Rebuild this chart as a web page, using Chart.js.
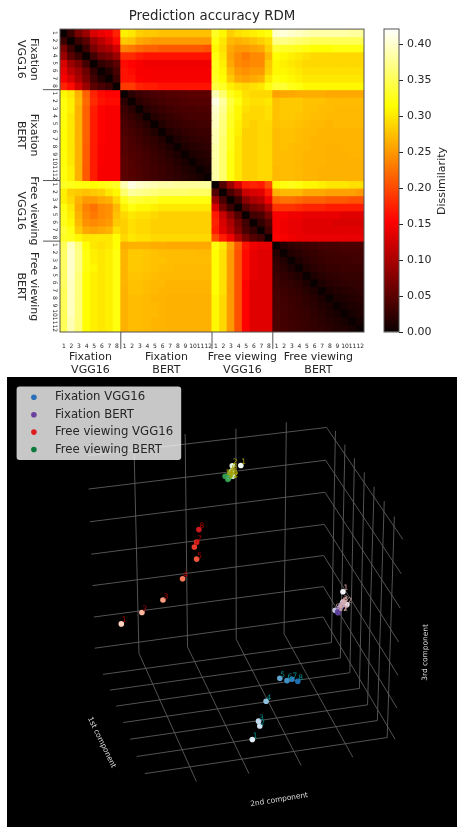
<!DOCTYPE html>
<html><head><meta charset="utf-8">
<script src="https://cdn.jsdelivr.net/npm/chart.js@4"></script>
<style>
html,body{margin:0;padding:0;background:#fff;width:457px;height:827px;overflow:hidden}
canvas{position:absolute;display:block;filter:blur(0.35px)}
#wrapA{position:absolute;left:0;top:0;width:424px;height:377px}
#wrapB{position:absolute;left:375px;top:0;width:82px;height:377px}
#wrapC{position:absolute;left:7px;top:377px;width:450px;height:450px;background:#000}
</style></head><body>
<div id="wrapA"><canvas id="heat" width="424" height="377"></canvas></div>
<div id="wrapB"><canvas id="cbar" width="82" height="377"></canvas></div>
<div id="wrapC"><canvas id="scene" width="450" height="450"></canvas></div>
<script>
// ---------- RDM block values (dissimilarity) ----------
const groups = ["Fixation VGG16","Fixation BERT","Free viewing VGG16","Free viewing BERT"];
const groupLines = [["Fixation","VGG16"],["Fixation","BERT"],["Free viewing","VGG16"],["Free viewing","BERT"]];
const groupSizes = [8,12,8,12];
const tickLabels = ["1","2","3","4","5","6","7","8","1","2","3","4","5","6","7","8","9","10","11","12","1","2","3","4","5","6","7","8","1","2","3","4","5","6","7","8","9","10","11","12"];

const fvFv = [
[0,.03,.07,.09,.13,.14,.15,.175],
[.03,0,.03,.05,.09,.11,.13,.16],
[.07,.03,0,.03,.07,.09,.10,.125],
[.09,.05,.03,0,.035,.06,.07,.09],
[.13,.09,.07,.035,0,.025,.035,.05],
[.14,.11,.09,.06,.025,0,.015,.04],
[.15,.13,.10,.07,.035,.015,0,.03],
[.175,.16,.125,.09,.05,.04,.03,0]];
const fvFb = [
[.305,.30,.285,.28,.28,.275,.275,.275,.275,.275,.275,.275],
[.28,.275,.26,.255,.25,.25,.25,.25,.25,.25,.25,.25],
[.235,.23,.22,.215,.215,.21,.21,.21,.21,.21,.21,.205],
[.18,.18,.17,.165,.165,.165,.165,.165,.165,.165,.165,.165],
[.16,.155,.15,.145,.145,.145,.145,.145,.145,.145,.145,.145],
[.165,.16,.15,.15,.148,.148,.148,.148,.148,.148,.148,.148],
[.165,.165,.152,.15,.15,.15,.15,.15,.15,.15,.15,.15],
[.19,.19,.175,.17,.17,.165,.165,.165,.165,.165,.165,.165]];
const fvVv = [
[.33,.31,.285,.295,.30,.305,.31,.32],
[.32,.30,.27,.265,.27,.275,.285,.295],
[.31,.295,.26,.25,.25,.255,.26,.285],
[.32,.30,.255,.24,.23,.24,.24,.27],
[.325,.305,.26,.24,.235,.24,.24,.28],
[.325,.31,.27,.25,.245,.25,.25,.285],
[.33,.315,.28,.26,.255,.26,.265,.30],
[.34,.33,.305,.295,.29,.295,.30,.32]];
const fvVb = [
[.40,.405,.40,.395,.39,.385,.385,.385,.385,.385,.38,.38],
[.37,.37,.365,.36,.355,.35,.35,.35,.35,.35,.35,.35],
[.335,.33,.33,.325,.32,.315,.315,.315,.32,.32,.32,.32],
[.315,.31,.305,.30,.295,.29,.29,.29,.29,.29,.29,.29],
[.31,.305,.30,.295,.29,.29,.29,.29,.29,.29,.29,.29],
[.31,.31,.305,.30,.295,.295,.295,.295,.295,.295,.295,.295],
[.32,.315,.31,.305,.30,.30,.30,.30,.30,.30,.30,.30],
[.335,.335,.325,.32,.31,.31,.31,.31,.31,.31,.31,.31]];

const fbFv = [
[.31,.30,.265,.215,.175,.16,.155,.155],
[.32,.305,.27,.22,.18,.165,.16,.16],
[.32,.305,.265,.215,.172,.155,.15,.15],
[.318,.30,.265,.215,.17,.155,.15,.15],
[.318,.30,.265,.215,.17,.155,.15,.15],
[.315,.30,.265,.215,.17,.155,.15,.15],
[.315,.30,.265,.215,.17,.155,.15,.15],
[.315,.30,.265,.212,.17,.152,.15,.15],
[.318,.30,.265,.212,.17,.152,.15,.15],
[.318,.30,.265,.212,.17,.152,.15,.15],
[.32,.305,.265,.21,.17,.15,.15,.15],
[.32,.305,.265,.21,.17,.15,.15,.15]];
const fbFb = [
[0,.02,.03,.035,.04,.042,.045,.047,.048,.05,.05,.05],
[.02,0,.02,.028,.033,.037,.04,.042,.044,.045,.046,.046],
[.03,.02,0,.018,.025,.03,.034,.037,.04,.04,.042,.042],
[.035,.028,.018,0,.016,.023,.028,.032,.035,.037,.038,.038],
[.04,.033,.025,.016,0,.014,.022,.026,.03,.032,.034,.034],
[.042,.037,.03,.023,.014,0,.015,.02,.025,.028,.03,.03],
[.045,.04,.034,.028,.022,.015,0,.013,.018,.022,.025,.026],
[.047,.042,.037,.032,.026,.02,.013,0,.012,.016,.02,.022],
[.048,.044,.04,.035,.03,.025,.018,.012,0,.011,.015,.018],
[.05,.045,.04,.037,.032,.028,.022,.016,.011,0,.01,.014],
[.05,.046,.042,.038,.034,.03,.025,.02,.015,.01,0,.009],
[.05,.046,.042,.038,.034,.03,.026,.022,.018,.014,.009,0]];
const fbVv = [
[.39,.36,.325,.31,.295,.29,.29,.29],
[.41,.38,.34,.32,.30,.295,.295,.30],
[.40,.375,.335,.31,.295,.29,.29,.295],
[.395,.37,.33,.31,.29,.29,.29,.295],
[.395,.365,.33,.305,.29,.285,.29,.29],
[.39,.365,.325,.305,.285,.285,.29,.29],
[.39,.36,.325,.30,.285,.285,.29,.29],
[.385,.36,.325,.30,.285,.285,.29,.29],
[.385,.36,.32,.30,.285,.285,.29,.29],
[.385,.36,.32,.30,.285,.285,.29,.29],
[.385,.36,.32,.30,.285,.285,.29,.29],
[.385,.36,.32,.30,.285,.285,.29,.29]];
const fbVb = [
[.255,.258,.26,.262,.262,.262,.262,.26,.26,.26,.26,.26],
[.275,.28,.28,.28,.275,.275,.275,.272,.272,.272,.272,.272],
[.275,.28,.28,.28,.275,.275,.272,.272,.27,.27,.27,.27],
[.275,.28,.28,.278,.275,.272,.272,.27,.27,.27,.27,.27],
[.275,.278,.278,.275,.272,.27,.27,.268,.27,.27,.27,.27],
[.272,.275,.275,.272,.27,.27,.268,.268,.268,.268,.268,.268],
[.272,.275,.275,.272,.27,.268,.268,.268,.268,.268,.268,.268],
[.272,.275,.272,.27,.27,.268,.268,.265,.265,.268,.268,.268],
[.272,.272,.272,.27,.268,.268,.268,.265,.265,.265,.268,.268],
[.272,.272,.272,.27,.268,.268,.268,.265,.265,.265,.265,.265],
[.27,.272,.272,.27,.268,.268,.265,.265,.265,.265,.265,.265],
[.27,.272,.272,.27,.268,.268,.265,.265,.265,.265,.265,.265]];

const vvFv = [
[.33,.325,.32,.32,.315,.32,.325,.33],
[.305,.285,.28,.275,.28,.285,.30,.31],
[.305,.29,.265,.25,.25,.26,.265,.29],
[.32,.30,.26,.235,.225,.24,.245,.27],
[.325,.305,.265,.24,.23,.24,.245,.275],
[.325,.31,.27,.245,.24,.245,.25,.28],
[.335,.32,.28,.26,.255,.26,.265,.295],
[.33,.325,.31,.30,.30,.30,.30,.315]];
const vvFb = [
[.39,.41,.40,.395,.39,.385,.385,.38,.38,.38,.38,.38],
[.36,.38,.375,.37,.365,.36,.36,.36,.36,.355,.355,.355],
[.325,.34,.335,.33,.33,.32,.32,.32,.32,.32,.32,.32],
[.305,.32,.31,.31,.305,.30,.30,.30,.30,.30,.30,.30],
[.29,.30,.295,.295,.29,.285,.285,.285,.285,.285,.285,.285],
[.285,.295,.29,.29,.285,.285,.285,.285,.285,.285,.285,.285],
[.285,.295,.29,.29,.285,.285,.285,.285,.285,.285,.285,.285],
[.29,.30,.295,.295,.29,.29,.29,.29,.29,.29,.29,.29]];
const vvVv = [
[0,.045,.09,.13,.17,.175,.17,.20],
[.045,0,.04,.065,.12,.13,.135,.17],
[.09,.04,0,.03,.08,.10,.11,.145],
[.13,.065,.03,0,.045,.065,.075,.105],
[.17,.12,.08,.045,0,.035,.04,.07],
[.175,.13,.10,.065,.035,0,.025,.045],
[.17,.135,.11,.075,.04,.025,0,.035],
[.20,.17,.145,.105,.07,.045,.035,0]];
const vvVb = [
[.31,.32,.325,.32,.31,.31,.305,.30,.30,.30,.295,.295],
[.265,.27,.27,.27,.26,.26,.26,.255,.255,.255,.255,.25],
[.22,.225,.225,.22,.215,.215,.215,.21,.21,.21,.205,.205],
[.185,.185,.185,.18,.175,.175,.175,.17,.17,.17,.17,.17],
[.15,.15,.145,.145,.14,.14,.14,.14,.14,.135,.135,.135],
[.15,.145,.14,.14,.135,.135,.135,.135,.13,.13,.13,.13],
[.15,.145,.14,.14,.135,.135,.135,.135,.135,.135,.135,.135],
[.155,.15,.145,.14,.14,.14,.14,.14,.14,.14,.14,.14]];

const vbFv = [
[.35,.395,.365,.315,.30,.295,.30,.315],
[.355,.40,.37,.32,.305,.30,.305,.32],
[.355,.40,.37,.32,.305,.30,.305,.32],
[.355,.40,.37,.32,.31,.30,.305,.32],
[.355,.40,.365,.315,.305,.30,.305,.32],
[.355,.395,.365,.315,.305,.30,.305,.32],
[.35,.395,.365,.315,.305,.30,.305,.32],
[.35,.395,.365,.315,.305,.30,.305,.32],
[.35,.395,.365,.315,.305,.30,.305,.32],
[.35,.395,.365,.315,.305,.30,.305,.32],
[.35,.39,.365,.315,.305,.30,.305,.32],
[.35,.39,.365,.315,.305,.30,.305,.32]];
const vbFb = [
[.262,.265,.265,.265,.262,.262,.26,.26,.26,.26,.26,.26],
[.268,.28,.28,.278,.275,.272,.272,.272,.272,.272,.27,.27],
[.268,.28,.28,.278,.275,.275,.272,.272,.272,.272,.272,.272],
[.268,.28,.28,.278,.275,.272,.272,.27,.27,.27,.27,.27],
[.268,.278,.278,.275,.272,.27,.27,.27,.27,.27,.27,.27],
[.268,.275,.275,.272,.27,.27,.268,.268,.268,.268,.268,.268],
[.265,.275,.275,.272,.27,.268,.268,.268,.268,.268,.268,.268],
[.265,.272,.272,.27,.268,.268,.265,.265,.265,.265,.265,.265],
[.265,.272,.272,.27,.27,.268,.265,.265,.265,.265,.265,.265],
[.265,.272,.272,.27,.27,.268,.265,.265,.265,.265,.265,.265],
[.265,.272,.272,.27,.268,.268,.265,.265,.265,.265,.265,.265],
[.265,.272,.272,.27,.268,.268,.265,.265,.265,.265,.265,.265]];
const vbVv = [
[.32,.30,.255,.21,.165,.145,.14,.14],
[.315,.295,.25,.205,.16,.14,.135,.135],
[.315,.295,.25,.205,.16,.14,.135,.135],
[.315,.295,.25,.205,.16,.14,.135,.135],
[.315,.295,.25,.205,.16,.14,.135,.135],
[.315,.295,.25,.205,.155,.135,.135,.135],
[.315,.295,.25,.205,.155,.135,.135,.135],
[.31,.29,.25,.205,.155,.135,.135,.135],
[.31,.29,.25,.205,.155,.135,.135,.135],
[.31,.29,.25,.205,.155,.135,.135,.135],
[.31,.29,.25,.205,.155,.135,.135,.135],
[.31,.29,.25,.205,.155,.135,.135,.135]];
const vbVb = [
[0,.016,.022,.026,.03,.033,.036,.037,.038,.039,.04,.04],
[.016,0,.015,.02,.025,.028,.031,.033,.034,.035,.036,.036],
[.022,.015,0,.013,.02,.024,.027,.03,.031,.032,.033,.033],
[.026,.02,.013,0,.014,.02,.024,.027,.028,.03,.03,.03],
[.03,.025,.02,.014,0,.012,.018,.022,.024,.026,.027,.028],
[.033,.028,.024,.02,.012,0,.012,.017,.02,.022,.024,.025],
[.036,.031,.027,.024,.018,.012,0,.011,.015,.018,.02,.022],
[.037,.033,.03,.027,.022,.017,.011,0,.01,.013,.016,.019],
[.038,.034,.031,.028,.024,.02,.015,.01,0,.009,.012,.015],
[.039,.035,.032,.03,.026,.022,.018,.013,.009,0,.008,.012],
[.04,.036,.033,.03,.027,.024,.02,.016,.012,.008,0,.008],
[.04,.036,.033,.03,.028,.025,.022,.019,.015,.012,.008,0]];

const blockGrid = [[fvFv,fvFb,fvVv,fvVb],[fbFv,fbFb,fbVv,fbVb],[vvFv,vvFb,vvVv,vvVb],[vbFv,vbFb,vbVv,vbVb]];
const colorbarRange = [0,0.4213];
const colorbarStep = 0.05;

// ---------- Projected 3-D scene values (x, y in the view's projected coordinates) ----------
const fixationVgg = [[252.7,742],[260.3,728.3],[259,723.3],[266.7,703],[280.7,679.7],[288,682],[293,680.7],[299,682.7]];
const fixationVggColors = ["#e3eef8","#cfe1f2","#bfd8ec","#8fc2de","#60a6d1","#4090c5","#2f7ebc","#1f6db1"];
const fixationBert = [[345,591.5],[349,604.5],[345,602],[344.5,603.5],[344,604.5],[343,606],[342.5,607],[341.5,608.5],[337,610.5],[340.5,610],[339.5,612],[340,613]];
const fixationBertColors = ["#f4f2f8","#e3e2ef","#d5d5e8","#c6c7e1","#b6b6d8","#a5a3ce","#9691c3","#8681bc","#c4c3e0","#7a6db0","#6f58a7","#5e3f99"];
const freeViewVgg = [[119.3,624.3],[140.3,612.7],[161.7,600],[181.7,578.3],[196,558.3],[193.7,546],[196,541],[198.3,528.3]];
const freeViewVggColors = ["#fed2bf","#fcb89e","#fc9d7f","#fb7b5b","#f6583e","#ee3a2c","#e22e27","#ce1a1e"];
const freeViewBert = [[241,463],[232.3,463.3],[232,468.3],[232.7,474],[231,470],[230,472],[229.5,473.5],[228.3,475],[226.5,474],[225,474],[227.7,477.3],[228.5,476]];
const freeViewBertColors = ["#f2faf0","#e3f4de","#d2edcb","#bde5b6","#a6dca0","#8ed18c","#75c578","#5cb868","#44aa5e","#2f9950","#238b45","#48a85c"];
const bertLabels = ["1","2","3","4","5","6","7","8","9","10","11","12"];
const vggLabels = ["1","2","3","4","5","6","7","8"];
const legendColors = ["#2a70b8","#6a3fa0","#dd1c20","#0c7a3a"];

const gridLines = [
 // back wall, horizontal
 [85,453,328.3,424.3],[86,487,327.3,457.7],[87.3,520.3,326.7,490.3],[88.7,553.3,326,523],[90,585.3,325.3,554.7],[91.3,617.3,325,586.3],[92.3,649,324.7,617.3],
 // back wall, vertical
 [132.3,447,137.3,654.3],[184.3,431,186.7,647.7],[236,425.5,236.3,640],[287.3,419,285,634.3],
 // side wall, receding
 [328.3,424.3,406,538.3],[327.3,457.7,404.3,573.3],[326.7,490.3,403.3,608.3],[326,523,401.7,642.7],[325.3,554.7,401,676.7],[325,586.3,400,710],[324.7,617.3,398,741.7],
 // side wall, vertical
 [337.3,427.7,333.3,643.3],[347,441.7,342.3,659],[356.7,455.7,352,674],[366.7,470,361.7,690],[376.7,484.7,370,706.7],[387,499.3,380,722.7],[397.3,515,390,740],
 // floor
 [100.7,675.7,333.3,643.3],[107.7,691.7,342.3,659],[114,708,352,674],[121.3,724.7,361.7,690],[128.3,741.7,370,706.7],[135,759.3,380,722.7],[143.3,776.7,390,740],
 [137.3,654.3,195.7,784.7],[186.7,647.7,249.3,776.7],[236.3,640,302.3,768.3],[285,634.3,355,760]
];

// ---------- Helpers ----------
const FONT = "'DejaVu Sans'";
const INK = "#262626";
function clamp(v){return Math.max(0,Math.min(1,v));}
function hot(v){
  const t = clamp(v/colorbarRange[1]);
  const r = clamp(0.0416 + t*(1-0.0416)/0.365);
  const g = clamp((t-0.365)/0.381);
  const b = clamp((t-0.746)/0.254);
  return `rgb(${Math.round(r*255)},${Math.round(g*255)},${Math.round(b*255)})`;
}
const matrix = [];
blockGrid.forEach(rowBlocks=>{
  const n = rowBlocks[0].length;
  for(let i=0;i<n;i++){ matrix.push([].concat(...rowBlocks.map(b=>b[i]))); }
});

// ---------- Heat-map chart ----------
const heatDatasets = matrix.map((row,r)=>({
  data: row.map(()=>[r,r+1]),
  backgroundColor: row.map(hot),
  borderWidth: 0,
  inflateAmount: 0.5,
  barPercentage: 1,
  categoryPercentage: 1,
  grouped: false
}));
const groupEdges = []; const groupMids = [];
groupSizes.reduce((s,n)=>{ groupMids.push(s+n/2); if(s+n<tickLabels.length) groupEdges.push(s+n); return s+n; },0);

const heatDecor = {
  id:'heatDecor',
  afterDatasetsDraw(chart){
    const {ctx,chartArea:a,scales:{x,y}} = chart;
    const cellW = x.getPixelForValue(1)-x.getPixelForValue(0);
    ctx.save();
    // frame
    ctx.strokeStyle = "#555"; ctx.lineWidth = 1;
    ctx.strokeRect(a.left,a.top,a.right-a.left,a.bottom-a.top);
    // group separators
    ctx.strokeStyle = "#555";
    groupEdges.forEach(e=>{
      const px = x.getPixelForValue(e)-cellW/2;
      ctx.beginPath(); ctx.moveTo(px,a.bottom); ctx.lineTo(px,a.bottom+17); ctx.stroke();
      const py = y.getPixelForValue(e);
      ctx.beginPath(); ctx.moveTo(a.left,py); ctx.lineTo(a.left-17,py); ctx.stroke();
    });
    // y tick labels, rotated
    ctx.fillStyle = INK; ctx.font = `6px ${FONT}`; ctx.textAlign='center'; ctx.textBaseline='middle';
    tickLabels.forEach((t,i)=>{
      ctx.save(); ctx.translate(a.left-5.5,y.getPixelForValue(i+0.5)); ctx.rotate(Math.PI/2); ctx.fillText(t,0,0); ctx.restore();
    });
    // group labels
    ctx.font = `11px ${FONT}`;
    groupLines.forEach((lines,i)=>{
      const cx = x.getPixelForValue(groupMids[i])-cellW/2;
      ctx.fillText(lines[0],cx,356.7); ctx.fillText(lines[1],cx,370);
      ctx.save(); ctx.translate(34,y.getPixelForValue(groupMids[i])); ctx.rotate(Math.PI/2);
      ctx.fillText(lines[0],0,0); ctx.fillText(lines[1],0,13); ctx.restore();
    });
    ctx.restore();
  }
};

new Chart(document.getElementById('heat'),{
  type:'bar',
  data:{labels:tickLabels,datasets:heatDatasets},
  plugins:[heatDecor],
  options:{
    responsive:false,animation:false,
    layout:{padding:{left:60,right:60,top:0,bottom:0}},
    plugins:{
      legend:{display:false},tooltip:{enabled:false},
      title:{display:true,text:"Prediction accuracy RDM",color:INK,font:{family:FONT,size:13.4,weight:'normal',lineHeight:1.2},padding:{top:8,bottom:5}}
    },
    scales:{
      x:{type:'category',offset:true,grid:{display:false},border:{display:false},
         ticks:{autoSkip:false,maxRotation:0,minRotation:0,padding:3,color:INK,font:{family:FONT,size:6}},
         afterFit(s){s.height=45;}},
      y:{type:'linear',display:false,reverse:true,min:0,max:tickLabels.length}
    }
  }
});

// ---------- Colour bar ----------
const cbDecor = {
  id:'cbDecor',
  afterDatasetsDraw(chart){
    const {ctx,chartArea:a} = chart;
    ctx.save();
    ctx.strokeStyle="#555";ctx.lineWidth=1;
    ctx.strokeRect(a.left,a.top,a.right-a.left,a.bottom-a.top);
    ctx.fillStyle=INK;ctx.font=`11px ${FONT}`;ctx.textAlign='center';ctx.textBaseline='middle';
    ctx.translate(66.7,181);ctx.rotate(-Math.PI/2);ctx.fillText("Dissimilarity",0,0);
    ctx.restore();
  }
};
new Chart(document.getElementById('cbar'),{
  type:'bar',
  data:{labels:[""],datasets:[{
    data:[colorbarRange],
    barPercentage:1,categoryPercentage:1,borderWidth:0,
    backgroundColor(c){
      const a=c.chart.chartArea; if(!a) return "#000";
      const g=c.chart.ctx.createLinearGradient(0,a.bottom,0,a.top);
      [0,0.1,0.2,0.3,0.365,0.5,0.6,0.7,0.746,0.85,1].forEach(t=>g.addColorStop(t,hot(t*colorbarRange[1])));
      return g;
    }
  }]},
  plugins:[cbDecor],
  options:{
    responsive:false,animation:false,
    layout:{padding:{left:9,right:0,top:29,bottom:45}},
    plugins:{legend:{display:false},tooltip:{enabled:false}},
    scales:{
      x:{display:false},
      y:{position:'right',min:colorbarRange[0],max:colorbarRange[1],
         grid:{drawOnChartArea:false,drawTicks:true,tickLength:4,tickColor:INK},border:{display:false},
         ticks:{stepSize:colorbarStep,includeBounds:false,padding:4,color:INK,font:{family:FONT,size:11},callback:v=>v.toFixed(2)},
         afterFit(s){s.width=58;}}
    }
  }
});

// ---------- 3-D scene (projected) ----------
const toPts = arr=>arr.map(p=>({x:p[0],y:p[1]}));
const seriesDefs = [
  {pts:fixationVgg,colors:fixationVggColors,labels:vggLabels,ink:"#008b8b"},
  {pts:fixationBert,colors:fixationBertColors,labels:bertLabels,ink:"#d8a8a8"},
  {pts:freeViewVgg,colors:freeViewVggColors,labels:vggLabels,ink:"#b00000"},
  {pts:freeViewBert,colors:freeViewBertColors,labels:bertLabels,ink:"#a8a000"}
];
const sceneDatasets = [];
seriesDefs.forEach((s,i)=>sceneDatasets.push({
  label:groups[i],type:'scatter',data:toPts(s.pts),
  pointBackgroundColor:s.colors,pointBorderWidth:0,pointRadius:2.8,showLine:false,order:0
}));
gridLines.forEach(l=>sceneDatasets.push({
  type:'line',data:[{x:l[0],y:l[1]},{x:l[2],y:l[3]}],
  borderColor:"#5c5c5c",borderWidth:0.9,pointRadius:0,showLine:true,fill:false,order:1
}));

const sceneDecor = {
  id:'sceneDecor',
  afterDatasetsDraw(chart){
    const {ctx,scales:{x,y}} = chart;
    ctx.save();
    // point index labels
    ctx.font=`7.5px ${FONT}`;ctx.textAlign='left';ctx.textBaseline='alphabetic';
    seriesDefs.forEach(s=>{
      ctx.fillStyle=s.ink;
      s.pts.forEach((p,i)=>ctx.fillText(s.labels[i],x.getPixelForValue(p[0])+0.5,y.getPixelForValue(p[1])-1.5));
    });
    // axis labels
    ctx.fillStyle="#dddddd";ctx.font=`7.4px ${FONT}`;ctx.textAlign='center';ctx.textBaseline='middle';
    [["1st component",99.3,745,64],["2nd component",280,803.3,-9.3],["3rd component",429,653.3,-89]].forEach(([t,px,py,deg])=>{
      ctx.save();ctx.translate(x.getPixelForValue(px),y.getPixelForValue(py));ctx.rotate(deg*Math.PI/180);ctx.fillText(t,0,0);ctx.restore();
    });
    // legend
    const L=x.getPixelForValue(12.7),T=y.getPixelForValue(382.7),W=164.6,H=73.3;
    ctx.fillStyle="rgba(255,255,255,0.78)";
    ctx.beginPath();ctx.roundRect(L,T,W,H,3);ctx.fill();
    ctx.font=`11.7px ${FONT}`;ctx.textAlign='left';ctx.textBaseline='middle';
    groups.forEach((g,i)=>{
      const cy=T+10.7+i*17.4;
      ctx.fillStyle=legendColors[i];
      ctx.beginPath();ctx.arc(L+17.3,cy,2.8,0,Math.PI*2);ctx.fill();
      ctx.fillStyle=INK;ctx.fillText(g,L+38.3,cy);
    });
    ctx.restore();
  }
};
new Chart(document.getElementById('scene'),{
  type:'scatter',
  data:{datasets:sceneDatasets},
  plugins:[sceneDecor],
  options:{
    responsive:false,animation:false,
    layout:{padding:0},
    plugins:{legend:{display:false},tooltip:{enabled:false}},
    scales:{
      x:{type:'linear',display:false,min:7,max:457},
      y:{type:'linear',display:false,reverse:true,min:377,max:827}
    }
  }
});
</script>
</body></html>
